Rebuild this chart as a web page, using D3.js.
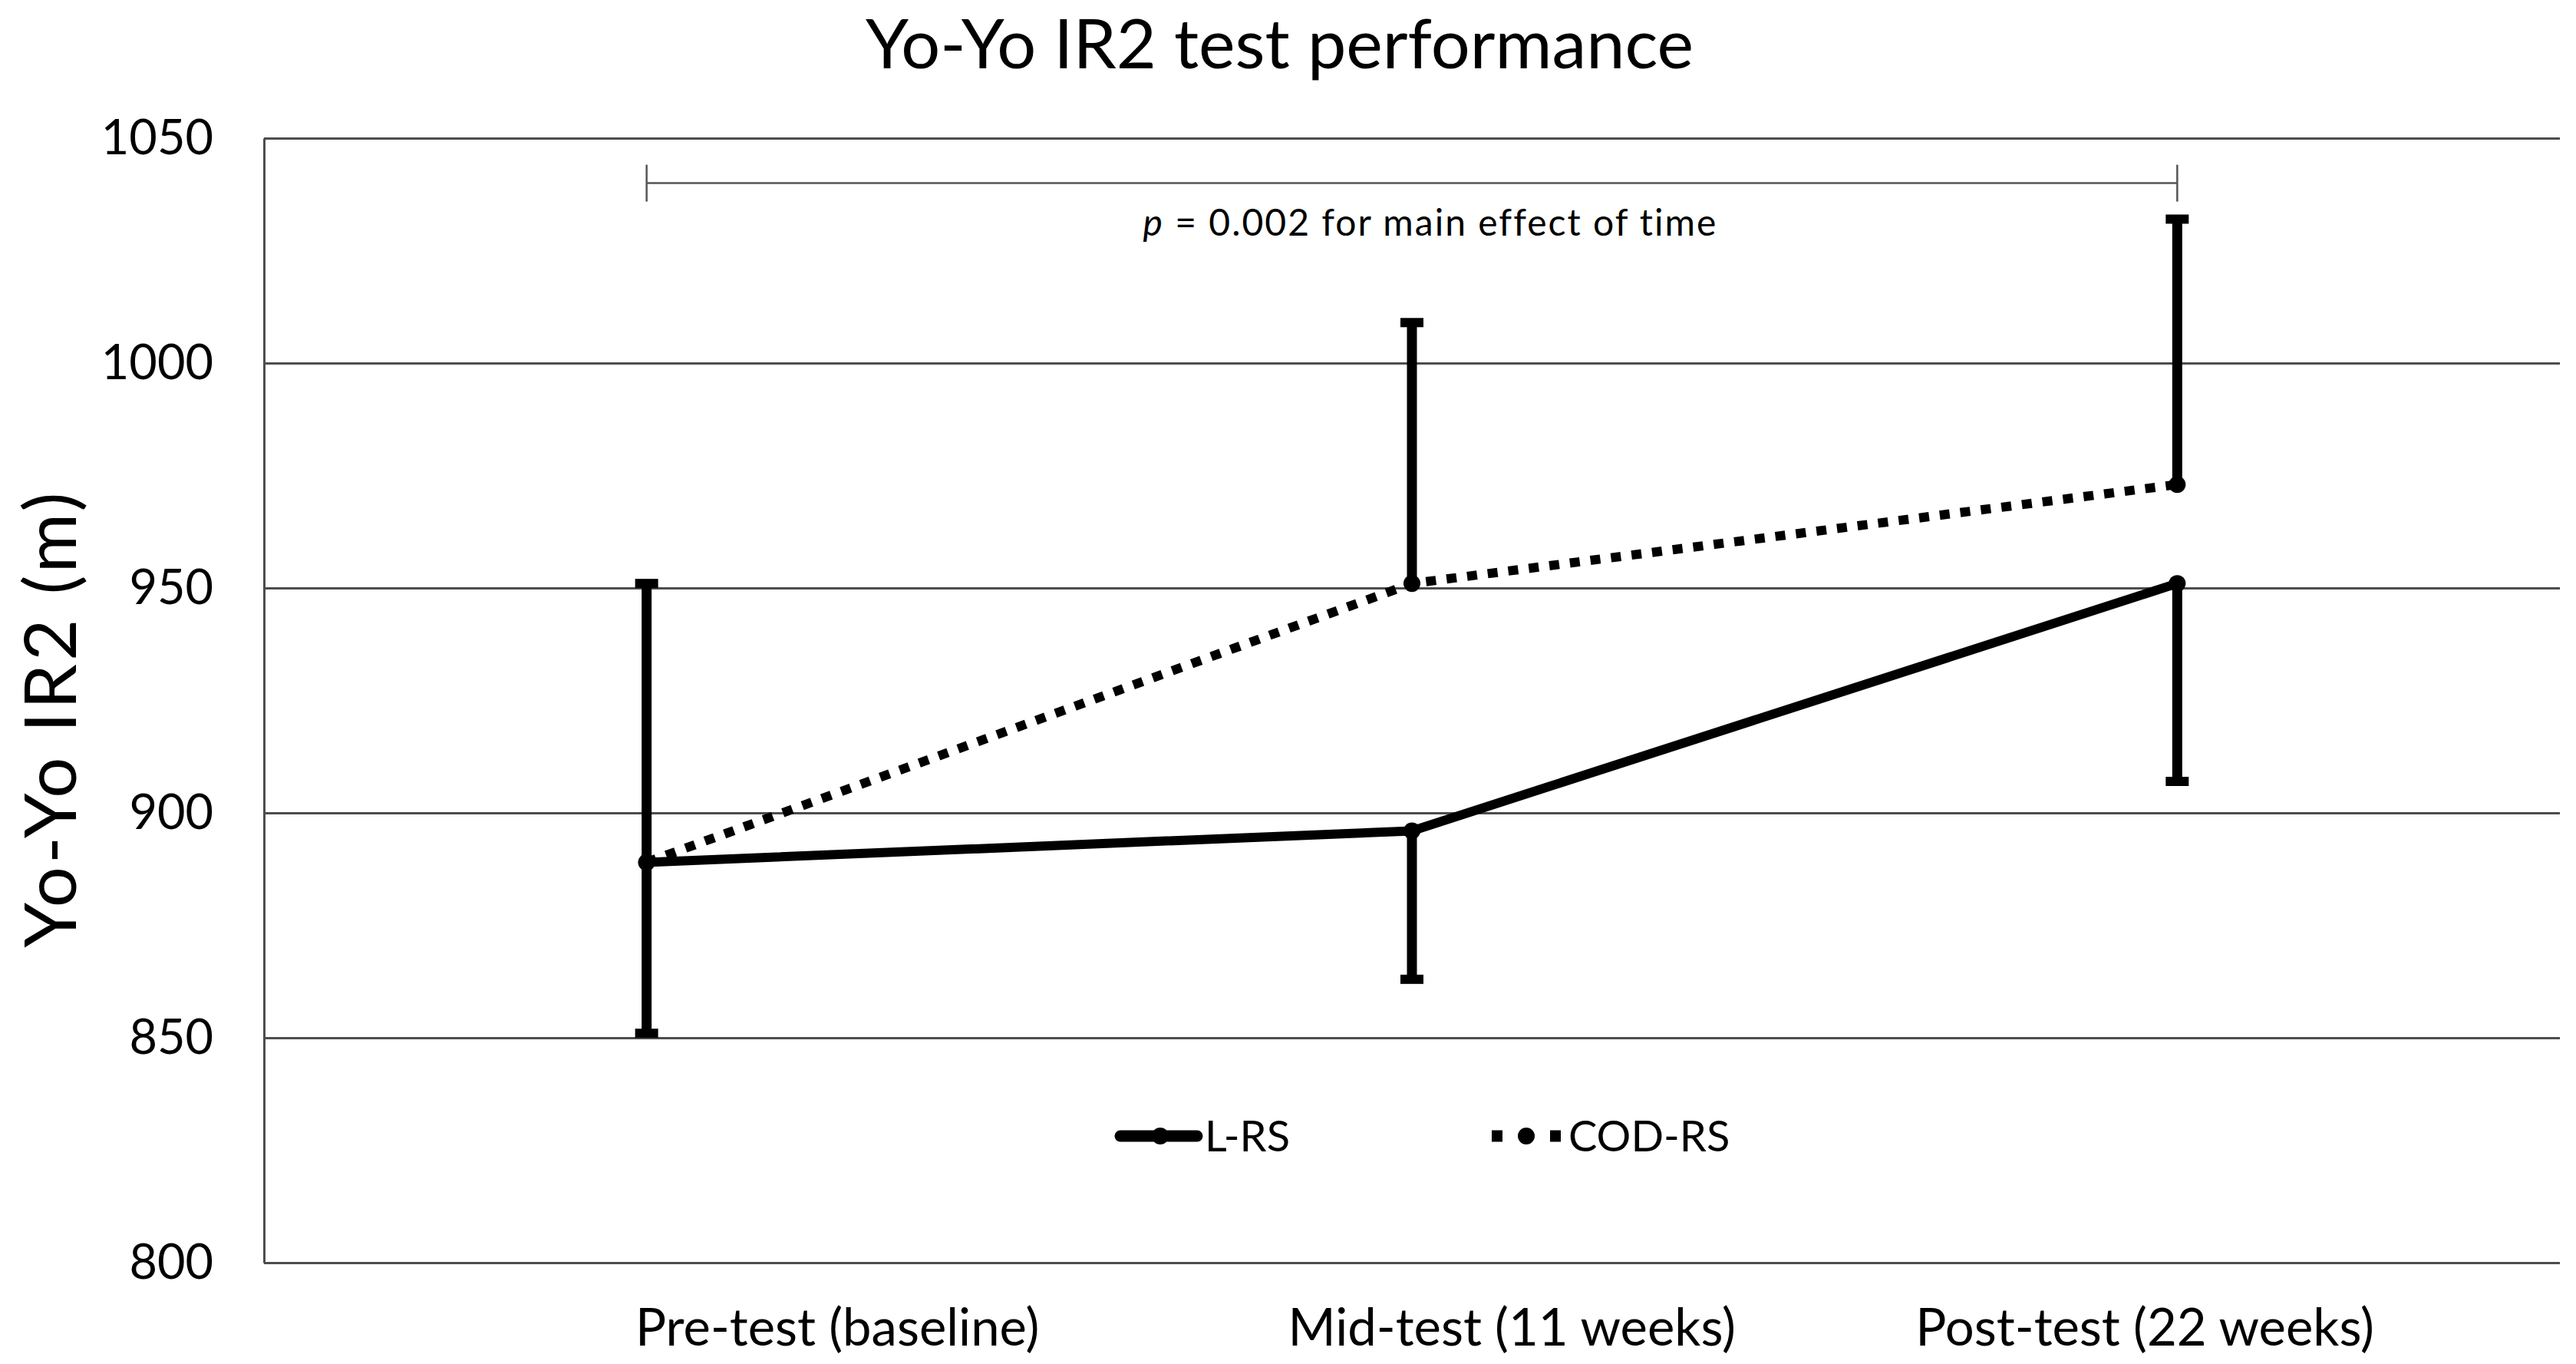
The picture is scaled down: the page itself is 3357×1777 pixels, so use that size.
<html>
    <head>
        <script src="https://d3js.org/d3.v7.min.js"></script>
        <style>
            body { margin: 0; background: #fff; }
            text { font-family: Lato, "Open Sans", sans-serif; fill: #000; }
        </style>
    </head>
    <body>
        <svg id="svg" width="3357" height="1777"></svg>
        <script>
            // data
            var categories = ["Pre-test (baseline)", "Mid-test (11 weeks)", "Post-test (22 weeks)"];
            var seriesNames = ["L-RS", "COD-RS"];
            var lrsValues = [889, 896, 951];
            var lrsErrDown = [38, 33, 44];   // only lower bars shown for L-RS
            var codValues = [889, 951, 973];
            var codErrUp = [62, 58, 59];     // only upper bars shown for COD-RS
            var yTicks = [800, 850, 900, 950, 1000, 1050];
            var pText = " = 0.002 for main effect of time";

            var svg = d3.select("svg");
            var width = +svg.attr("width");
            var height = +svg.attr("height");

            var plotLeft = 344, plotRight = 3336, plotTop = 180, plotBottom = 1645;
            var plotW = plotRight - plotLeft;

            var x = d3.scaleBand().domain(categories).range([plotLeft, plotRight]);
            var cx = function(c){ return x(c) + x.bandwidth()/2; };
            var y = d3.scaleLinear().domain([800, 1050]).range([plotBottom, plotTop]);

            // category labels in the original sit off the points (hand placed)
            var labelX = d3.scaleOrdinal().domain(categories)
                .range([0.2497, 0.5435, 0.8192].map(function(f){ return plotLeft + plotW*f; }));

            // title
            svg.append("text")
                .attr("x", width/2 - 11)
                .attr("y", 89)
                .attr("text-anchor", "middle")
                .style("font-size", "90px")
                .text("Yo-Yo IR2 test performance");

            // y axis + gridlines
            var yAxis = svg.append("g")
                .attr("transform", "translate(" + plotLeft + ",0)")
                .call(d3.axisLeft(y).tickValues(yTicks).tickFormat(d3.format("d"))
                    .tickSize(-plotW).tickSizeOuter(0).tickPadding(66));
            yAxis.select(".domain").attr("stroke", "#4d4d4d").attr("stroke-width", 3);
            yAxis.selectAll(".tick line").attr("stroke", "#4d4d4d").attr("stroke-width", 3);
            yAxis.selectAll(".tick text")
                .style("font-size", "63px")
                .style("font-family", "Lato, sans-serif")
                .attr("fill", "#000");

            // y title
            svg.append("text")
                .attr("transform", "translate(99," + 936 + ") rotate(-90)")
                .attr("text-anchor", "middle")
                .style("font-size", "94px")
                .style("letter-spacing", "4px")
                .text("Yo-Yo IR2 (m)");

            // category labels
            svg.append("g").selectAll("text")
                .data(categories)
                .join("text")
                .attr("x", function(d){ return labelX(d); })
                .attr("y", 1753)
                .attr("text-anchor", "middle")
                .style("font-size", "67px")
                .text(function(d){ return d; });

            // p-value bracket
            var bracketY = y(1040);
            var bx0 = cx(categories[0]), bx1 = cx(categories[2]);
            var bracket = svg.append("g").attr("stroke", "#555").attr("stroke-width", 2.5);
            bracket.append("path").attr("d", "M" + bx0 + " " + bracketY + "L" + bx1 + " " + bracketY);
            bracket.append("path").attr("d", "M" + bx0 + " " + (bracketY - 24) + "L" + bx0 + " " + (bracketY + 24));
            bracket.append("path").attr("d", "M" + bx1 + " " + (bracketY - 24) + "L" + bx1 + " " + (bracketY + 24));

            var pt = svg.append("text")
                .attr("x", (bx0 + bx1)/2 + 24)
                .attr("y", 307)
                .attr("text-anchor", "middle")
                .style("font-size", "48px")
                .style("letter-spacing", "2px");
            pt.append("tspan").style("font-style", "italic").text("p");
            pt.append("tspan").text(pText);

            // error bars
            var bars = svg.append("g").attr("stroke", "#000");
            function errorBar(xp, v0, v1){
                bars.append("path")
                    .attr("d", "M" + xp + " " + y(v0) + "L" + xp + " " + y(v1))
                    .attr("stroke-width", 13);
                bars.append("path")
                    .attr("d", "M" + (xp - 15) + " " + y(v1) + "L" + (xp + 15) + " " + y(v1))
                    .attr("stroke-width", 12);
            }
            categories.forEach(function(c, i){
                errorBar(cx(c), lrsValues[i], lrsValues[i] - lrsErrDown[i]);
                errorBar(cx(c), codValues[i], codValues[i] + codErrUp[i]);
            });

            // lines
            var line = d3.line()
                .x(function(d, i){ return cx(categories[i]); })
                .y(function(d){ return y(d); });

            var series = [
                {name: seriesNames[0], values: lrsValues, dash: null},
                {name: seriesNames[1], values: codValues, dash: "13 14"}
            ];

            series.slice().reverse().forEach(function(s){
                svg.append("path")
                    .attr("d", line(s.values))
                    .attr("fill", "none")
                    .attr("stroke", "#000")
                    .attr("stroke-width", 12)
                    .attr("stroke-dasharray", s.dash);
                svg.append("g").selectAll("circle")
                    .data(s.values)
                    .join("circle")
                    .attr("cx", function(d, i){ return cx(categories[i]); })
                    .attr("cy", function(d){ return y(d); })
                    .attr("r", 11)
                    .attr("fill", "#000");
            });

            // legend
            var legend = svg.append("g").attr("transform", "translate(1460,1480)");
            series.forEach(function(s, i){
                var g = legend.append("g").attr("transform", "translate(" + (i*484) + ",0)");
                g.append("path")
                    .attr("d", "M0 0L" + (i == 0 ? 100 : 90) + " 0")
                    .attr("stroke", "#000")
                    .attr("stroke-width", 15)
                    .attr("stroke-linecap", i == 0 ? "round" : "butt")
                    .attr("stroke-dasharray", i == 0 ? null : "14 24");
                g.append("circle").attr("cx", i == 0 ? 52 : 45).attr("cy", 0).attr("r", 11).attr("fill", "#000");
                g.append("text")
                    .attr("x", i == 0 ? 110 : 100)
                    .attr("y", 20)
                    .style("font-size", "56px")
                    .text(s.name);
            });
        </script>
    </body>
</html>
